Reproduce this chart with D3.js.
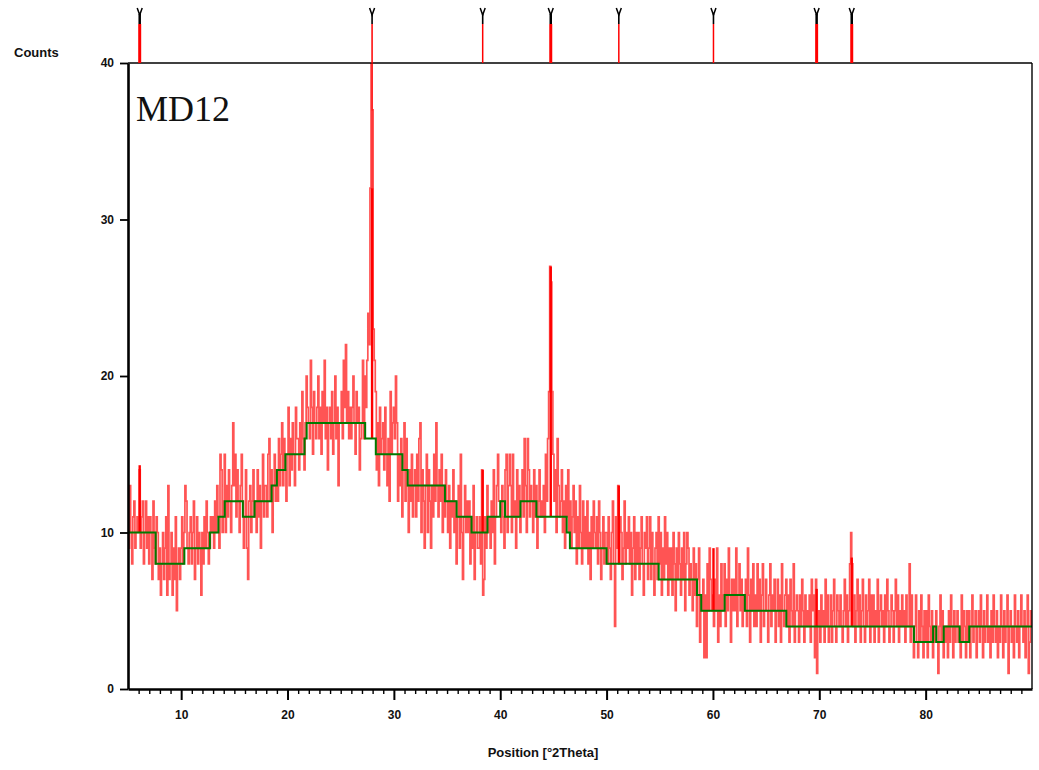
<!DOCTYPE html>
<html>
<head>
<meta charset="utf-8">
<script src="https://cdn.jsdelivr.net/npm/d3@7"></script>
<style>
  html, body { margin: 0; padding: 0; background: #fff; }
  svg { display: block; }
</style>
</head>
<body>
<svg id="chart" width="1039" height="770"></svg>
<script>
// ---------------- DATA ----------------
// Scan: 5.0 .. 90.0 °2Theta, step 0.1 — counts per row = one degree (10 points)
const scanStart = 5.0;
const scanStep = 0.1;
const countRows = [
  [12,9,13,10,8,11,12,9,10,11],      // 5
  [10,14,9,11,12,8,10,12,9,11],      // 6
  [8,11,10,7,12,9,8,11,10,7],        // 7
  [9,6,8,10,7,9,11,6,13,7],          // 8
  [8,10,6,9,7,11,5,8,9,7],           // 9
  [9,11,8,10,13,12,9,8,10,11],       // 10
  [8,10,12,7,9,11,8,10,9,6],         // 11
  [10,8,11,9,12,10,8,9,11,10],       // 12
  [11,9,12,10,13,11,9,15,14,10],     // 13
  [12,15,10,13,11,14,12,10,13,17],   // 14
  [13,15,11,14,12,10,13,15,12,9],    // 15
  [11,14,9,7,12,13,10,12,14,11],     // 16
  [12,10,14,11,13,9,12,15,11,13],    // 17
  [13,11,15,16,12,14,10,13,15,12],   // 18
  [14,12,16,13,15,17,13,16,14,12],   // 19
  [15,18,13,16,14,17,15,13,18,16],   // 20
  [16,14,17,15,19,16,14,17,20,18],   // 21
  [17,16,21,18,15,19,17,16,18,20],   // 22
  [16,18,15,19,17,21,16,18,14,17],   // 23
  [18,16,19,15,17,20,16,18,13,17],   // 24
  [17,19,16,21,18,22,17,19,16,18],   // 25
  [16,18,20,17,15,19,17,18,14,16],   // 26
  [17,21,16,20,18,21,24,22,32,45],   // 27
  [37,23,21,19,14,17,13,18,15,16],   // 28
  [17,14,18,15,13,16,12,19,15,17],   // 29
  [18,16,20,17,12,15,13,16,11,14],   // 30
  [17,12,16,13,10,14,12,15,11,13],   // 31
  [14,11,15,12,16,17,10,14,12,9],    // 32
  [13,15,10,14,12,9,13,11,15,12],    // 33
  [17,13,11,14,12,15,10,13,11,14],   // 34
  [12,10,13,9,12,11,14,10,12,8],     // 35
  [11,13,9,15,10,7,11,13,10,12],     // 36
  [10,12,8,11,9,13,7,10,11,9],       // 37
  [9,11,8,14,6,7,11,9,13,10],        // 38
  [11,9,12,10,14,8,11,13,15,12],     // 39
  [12,10,13,11,9,14,15,10,13,15],    // 40
  [13,10,15,11,12,9,14,11,13,10],    // 41
  [12,14,11,16,13,10,16,14,11,13],   // 42
  [12,10,14,11,13,9,12,14,11,12],    // 43
  [11,13,10,15,12,16,19,27,26,19],   // 44
  [15,12,14,10,16,13,11,12,14,10],   // 45
  [12,9,13,11,14,10,12,9,11,13],     // 46
  [10,12,8,11,9,13,10,8,12,9],       // 47
  [11,9,12,8,10,7,11,9,12,10],       // 48
  [9,11,8,12,10,7,9,11,8,10],        // 49
  [10,8,11,9,7,10,12,8,4,11],        // 50
  [9,13,8,11,10,7,9,12,8,10],        // 51
  [9,11,8,10,6,9,11,7,10,8],         // 52
  [10,7,9,11,8,6,10,9,11,7],         // 53
  [9,11,7,10,8,6,9,10,7,11],         // 54
  [8,10,6,9,7,11,8,10,6,9],          // 55
  [7,9,6,10,8,5,9,7,10,8],           // 56
  [6,9,7,10,5,8,10,9,6,8],           // 57
  [7,5,9,6,8,4,7,9,3,6],             // 58
  [5,7,2,6,2,8,5,9,7,5],             // 59
  [6,4,7,5,9,3,6,4,8,5],             // 60
  [6,8,4,7,5,9,6,3,7,5],             // 61
  [7,5,9,4,6,8,5,7,4,6],             // 62
  [5,7,4,9,6,3,7,5,8,4],             // 63
  [6,4,8,5,7,3,6,8,4,5],             // 64
  [7,5,3,6,8,4,6,5,7,3],             // 65
  [5,7,4,6,3,8,5,4,6,7],             // 66
  [4,6,3,7,5,4,8,3,5,6],             // 67
  [5,3,6,4,7,5,3,6,4,5],             // 68
  [4,6,3,7,5,6,2,7,1,4],             // 69
  [5,3,6,4,5,3,7,4,6,3],             // 70
  [4,6,3,5,7,4,3,6,5,4],             // 71
  [6,4,3,5,7,4,6,3,5,8],             // 72
  [10,8,4,6,3,5,7,4,6,3],            // 73
  [5,7,4,3,6,4,5,7,3,6],             // 74
  [4,6,3,5,4,7,3,5,6,4],             // 75
  [5,3,6,4,7,5,3,4,6,5],             // 76
  [3,5,7,4,6,3,5,4,6,4],             // 77
  [5,3,6,4,4,8,3,6,4,2],             // 78
  [4,6,3,2,5,3,6,4,2,5],             // 79
  [3,5,2,6,4,3,5,2,4,3],             // 80
  [5,3,1,4,6,3,5,2,4,3],             // 81
  [4,2,5,3,6,4,2,5,3,4],             // 82
  [5,3,4,2,6,3,5,4,2,5],             // 83
  [3,5,2,4,6,3,4,5,2,4],             // 84
  [5,3,6,4,2,5,3,4,6,3],             // 85
  [4,2,5,3,6,4,3,5,2,4],             // 86
  [3,6,4,2,5,3,4,6,1,4],             // 87
  [5,3,4,2,6,4,3,5,2,4],             // 88
  [6,4,3,5,2,4,6,1,3,5],             // 89
  [4]                                // 90
];

// Background (green step line): start position and level
const bgStart = [5,7.6,10.3,12.7,13.5,14.1,15.8,16.9,18.5,19.0,19.8,21.6,21.8,27.3,28.3,30.8,31.3,34.8,35.9,37.3,38.8,40.0,40.45,41.9,43.4,46.25,46.55,50.0,54.9,58.5,58.9,61.1,63.0,66.9,78.9,80.7,81.0,81.7,83.2,84.1];
const bgLevel = [10,8,9,10,11,12,11,12,13,14,15,16,17,16,15,14,13,12,11,10,11,12,11,12,11,10,9,8,7,6,5,6,5,4,3,4,3,4,3,4];
const bgEnd = 90;

// Identified peaks / reference pattern markers
const peakPos = [6.1, 27.95, 38.35, 44.75, 51.15, 60.05, 69.75, 73.05];
const peakTop = [14.3, 32, 14, 27, 13, 9, 6.4, 8.4];

// Axes
const xDomain = [5, 90];
const yDomain = [0, 40];
const xMajorTicks = [10, 20, 30, 40, 50, 60, 70, 80];
const yTicks = [0, 10, 20, 30, 40];
const yLabel = "Counts";
const xLabel = "Position [°2Theta]";
const sampleLabel = "MD12";

// ---------------- DRAW ----------------
const SANS = "'Liberation Sans', Arial, sans-serif";
const svg = d3.select("#chart");
const L = 128, R = 1032, T = 63, B = 689;
const x = d3.scaleLinear().domain(xDomain).range([L, R]);
const y = d3.scaleLinear().domain(yDomain).range([B, T]);

const counts = countRows.flat();
const scan = counts.map((c, i) => ({ pos: scanStart + i * scanStep, c }));

const bgData = bgStart.map((s, i) => ({ pos: s, lv: bgLevel[i] }));
bgData.push({ pos: bgEnd, lv: bgLevel[bgLevel.length - 1] });
function bgAt(p) {
  let lv = bgLevel[0];
  for (let i = 0; i < bgStart.length; i++) if (p >= bgStart[i]) lv = bgLevel[i];
  return lv;
}

svg.append("defs").append("clipPath").attr("id", "plotclip")
  .append("rect").attr("x", L).attr("y", T).attr("width", R - L).attr("height", B - T);

const plot = svg.append("g").attr("clip-path", "url(#plotclip)");

// Measured scan (red)
plot.append("path")
  .datum(scan)
  .attr("fill", "none")
  .attr("stroke", "#ff0000")
  .attr("stroke-opacity", 0.67)
  .attr("stroke-width", 1.7)
  .attr("d", d3.line().x(d => x(d.pos)).y(d => y(d.c)).curve(d3.curveStep));

// Peak sticks (solid red)
plot.selectAll("line.peak").data(peakPos).join("line")
  .attr("class", "peak")
  .attr("x1", d => x(d)).attr("x2", d => x(d))
  .attr("y1", d => y(bgAt(d)))
  .attr("y2", (d, i) => y(peakTop[i]))
  .attr("stroke", "#ff0000")
  .attr("stroke-width", 2.4);

// Background (green)
plot.append("path")
  .datum(bgData)
  .attr("fill", "none")
  .attr("stroke", "#007a00")
  .attr("stroke-width", 2)
  .attr("d", d3.line().x(d => x(d.pos)).y(d => y(d.lv)).curve(d3.curveStepAfter));

// Frame: top and right thin, left and bottom thick
svg.append("line").attr("x1", L).attr("x2", R).attr("y1", T).attr("y2", T)
  .attr("stroke", "#000").attr("stroke-width", 1.6);
svg.append("line").attr("x1", R).attr("x2", R).attr("y1", T).attr("y2", B)
  .attr("stroke", "#000").attr("stroke-width", 1.4);

// Y axis
const yAxis = svg.append("g").attr("transform", `translate(${L},0)`)
  .call(d3.axisLeft(y).tickValues(yTicks).tickSize(8).tickPadding(6).tickSizeOuter(0));
yAxis.select(".domain").attr("stroke-width", 2.6);
yAxis.selectAll(".tick line").attr("stroke-width", 1.8);
yAxis.selectAll("text").style("font-family", SANS).style("font-size", "12px")
  .style("font-weight", "bold").attr("fill", "#111");

// X axis: minor ticks
const minorTicks = d3.range(6, 90).filter(v => !xMajorTicks.includes(v));
const xMinor = svg.append("g").attr("transform", `translate(0,${B})`)
  .call(d3.axisBottom(x).tickValues(minorTicks).tickSize(5).tickFormat("").tickSizeOuter(0));
xMinor.select(".domain").remove();
xMinor.selectAll(".tick line").attr("stroke-width", 1.4);

const xAxis = svg.append("g").attr("transform", `translate(0,${B})`)
  .call(d3.axisBottom(x).tickValues(xMajorTicks).tickSize(11).tickPadding(10).tickSizeOuter(0));
xAxis.select(".domain").attr("stroke-width", 2.6);
xAxis.selectAll(".tick line").attr("stroke-width", 2);
xAxis.selectAll("text").style("font-family", SANS).style("font-size", "12px")
  .style("font-weight", "bold").attr("fill", "#111");

// Reference markers above plot
const thick = new Set([0, 3, 6, 7]);
const markers = svg.append("g");
peakPos.forEach((p, i) => {
  const px = x(p);
  markers.append("line").attr("x1", px).attr("x2", px).attr("y1", 24).attr("y2", T)
    .attr("stroke", "#ff0000").attr("stroke-width", thick.has(i) ? 3 : 1.5);
  markers.append("line").attr("x1", px).attr("x2", px).attr("y1", 14).attr("y2", 24)
    .attr("stroke", "#000").attr("stroke-width", thick.has(i) ? 2.5 : 1.6);
  markers.append("path")
    .attr("d", `M${px - 2.5},8 L${px},15 L${px + 2.5},8`)
    .attr("fill", "none").attr("stroke", "#000").attr("stroke-width", 1.5);
});
// the strong peak at ~28 continues inside the plot to the clipped top
markers.append("line").attr("x1", x(peakPos[1])).attr("x2", x(peakPos[1]))
  .attr("y1", T).attr("y2", y(peakTop[1]))
  .attr("stroke", "#ff0000").attr("stroke-width", 1.3).attr("stroke-opacity", 0.8);

// Labels
svg.append("text").attr("x", 14).attr("y", 57).text(yLabel)
  .style("font-family", SANS).style("font-size", "13px").style("font-weight", "bold").attr("fill", "#111");
svg.append("text").attr("x", 543).attr("y", 757).attr("text-anchor", "middle").text(xLabel)
  .style("font-family", SANS).style("font-size", "13px").style("font-weight", "bold").attr("fill", "#111");
svg.append("text").attr("x", 136).attr("y", 121).text(sampleLabel)
  .style("font-family", "'Liberation Serif', 'Times New Roman', serif")
  .style("font-size", "36px").attr("fill", "#111");
</script>
</body>
</html>
